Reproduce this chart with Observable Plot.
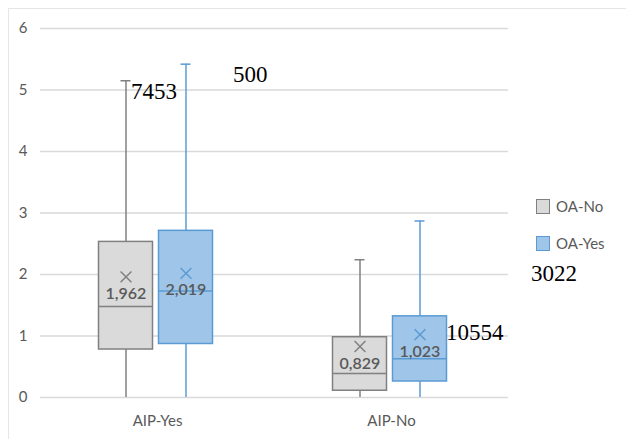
<!DOCTYPE html>
<html><head><meta charset="utf-8">
<script src="https://cdn.jsdelivr.net/npm/d3@7"></script>
<script src="https://cdn.jsdelivr.net/npm/@observablehq/plot@0.6"></script>
<style>
html,body{margin:0;padding:0;background:#fff;overflow:hidden;width:626px;height:439px;}
#wrap{position:relative;width:626px;height:439px;overflow:hidden;}
#frame{position:absolute;left:8px;top:8px;width:700px;height:500px;border:1px solid #e6e6e6;}
#chart{position:absolute;left:0;top:0;}
.lg{position:absolute;left:536px;font-family:Lato,sans-serif;font-size:15px;color:#595959;line-height:15px;white-space:nowrap;}
.sw{position:absolute;left:0;top:0;width:12px;height:13px;border:1px solid;}
.lt{position:absolute;left:20px;top:0;}
</style></head>
<body><div id="wrap"><div id="frame"></div><div id="chart"></div><div id="legend"></div></div>
<script>
const groups = ["AIP-Yes", "AIP-No"];
const series = ["OA-No", "OA-Yes"];
const fills = ["#dadada", "#9fc5e8"];
const strokes = ["#808080", "#5b9bd5"];

const aip = ["AIP-Yes", "AIP-Yes", "AIP-No", "AIP-No"];
const oa = ["OA-No", "OA-Yes", "OA-No", "OA-Yes"];
const lowWhisker = [0, 0, 0, 0];
const q1 = [0.78, 0.87, 0.11, 0.26];
const median = [1.48, 1.73, 0.39, 0.63];
const q3 = [2.53, 2.71, 0.98, 1.32];
const highWhisker = [5.15, 5.42, 2.24, 2.87];
const mean = [1.962, 2.019, 0.829, 1.023];
const meanLabels = ["1,962", "2,019", "0,829", "1,023"];
const yTicks = [0, 1, 2, 3, 4, 5, 6];

const noteLabels = ["7453", "500", "10554", "3022"];
const noteGroup = ["AIP-Yes", "AIP-Yes", "AIP-No", "AIP-No"];
const noteSeries = ["OA-No", "OA-Yes", "OA-Yes", "OA-Yes"];
const noteY = [4.846, 5.138, 0.943, 1.902];
const noteDx = [5, 47, 26, 111];

const rows = aip.map((a, i) => ({
  aip: a, oa: oa[i], lo: lowWhisker[i], q1: q1[i], med: median[i],
  q3: q3[i], hi: highWhisker[i], mean: mean[i], ml: meanLabels[i]
}));
const notes = noteLabels.map((t, i) => ({aip: noteGroup[i], oa: noteSeries[i], y: noteY[i], t}));

const boxMarks = series.flatMap((s, k) => {
  const d = rows.filter(r => r.oa === s);
  const st = strokes[k];
  return [
    Plot.ruleX(d, {fx: "aip", x: "oa", y1: "lo", y2: "hi", stroke: st, strokeWidth: 1.5, dx: -1.5}),
    Plot.tickY(d, {fx: "aip", x: "oa", y: "hi", stroke: st, strokeWidth: 1.5, insetLeft: 22, insetRight: 22, dx: -1.5}),
    Plot.barY(d, {fx: "aip", x: "oa", y1: "q1", y2: "q3", fill: fills[k], stroke: st, strokeWidth: 1.5, dx: -1.5}),
    Plot.tickY(d, {fx: "aip", x: "oa", y: "med", stroke: st, strokeWidth: 1.5, dx: -1.5}),
    Plot.dot(d, {fx: "aip", x: "oa", y: "mean", symbol: "times", r: 5, stroke: st, strokeWidth: 1.5, dx: -1.5}),
    Plot.text(d, {fx: "aip", x: "oa", y: "mean", text: "ml", dy: 17, dx: -1.5, fill: "#595959", fontSize: 16, fontWeight: 600})
  ];
});

const noteMarks = notes.map((n, i) =>
  Plot.text([n], {fx: "aip", x: "oa", y: "y", text: "t", dx: noteDx[i] - 1.5, textAnchor: "start",
    lineAnchor: "bottom", fill: "#000", fontSize: 23, fontFamily: "Liberation Serif"})
);

const chart = Plot.plot({
  width: 626, height: 439,
  marginLeft: 40, marginRight: 118, marginTop: 28, marginBottom: 42,
  style: {fontFamily: "Lato, sans-serif", background: "transparent", overflow: "visible"},
  fx: {domain: groups, padding: 0, axis: null},
  x: {domain: series, paddingInner: 0.1, paddingOuter: 1, axis: null},
  y: {domain: [0, 6], axis: null},
  marks: [
    Plot.gridY(yTicks, {stroke: "#d9d9d9", strokeOpacity: 1, strokeWidth: 1.5}),
    Plot.axisY(yTicks, {tickSize: 0, tickPadding: 13, fill: "#595959", fontSize: 15, label: null, tickFormat: d3.format("d")}),
    Plot.axisFx({anchor: "bottom", tickSize: 0, tickPadding: 18, fill: "#595959", fontSize: 15, label: null}),
    ...boxMarks,
    ...noteMarks
  ]
});
document.getElementById("chart").appendChild(chart);

const legend = document.getElementById("legend");
const legendTops = [199, 236];
series.forEach((s, k) => {
  const row = document.createElement("div");
  row.className = "lg";
  row.style.top = legendTops[k] + "px";
  const sw = document.createElement("div");
  sw.className = "sw";
  sw.style.background = fills[k];
  sw.style.borderColor = strokes[k];
  const t = document.createElement("div");
  t.className = "lt";
  t.textContent = s;
  row.appendChild(sw); row.appendChild(t);
  legend.appendChild(row);
});
</script>
</body></html>
